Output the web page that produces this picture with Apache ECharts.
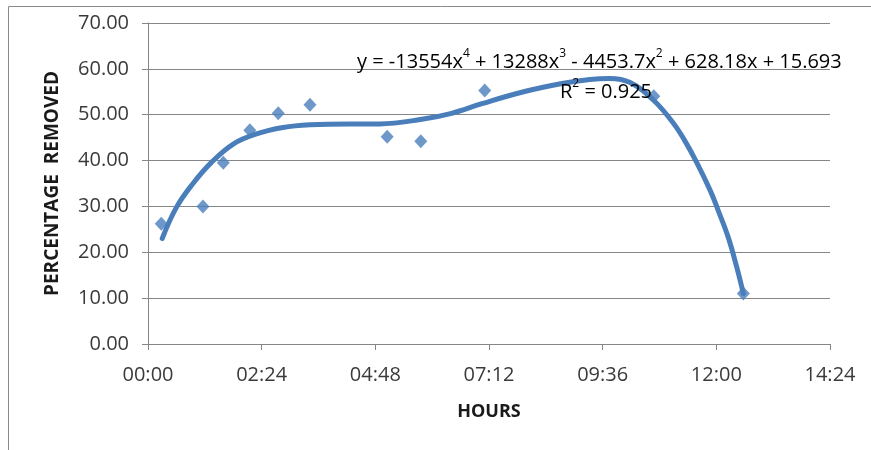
<!DOCTYPE html>
<html>
<head>
<meta charset="utf-8">
<script src="https://cdn.jsdelivr.net/npm/echarts@6/dist/echarts.min.js"></script>
<style>
  html, body { margin: 0; padding: 0; background: #ffffff; }
  #chart { width: 871px; height: 450px; }
</style>
</head>
<body>
<div id="chart"></div>
<script>
// Measured removal (hours since start, percentage removed)
const sampleHours   = [0.28, 1.16, 1.59, 2.15, 2.75, 3.42, 5.05, 5.76, 7.11, 10.68, 12.57];
const sampleRemoved = [26.2, 30.0, 39.5, 46.6, 50.3, 52.2, 45.2, 44.2, 55.3, 54.0, 11.0];

// Polynomial trend line, traced along its path
const trendHours = [0.30, 0.60, 0.95, 1.34, 1.80, 2.29, 2.85, 3.42, 4.26, 4.89, 5.78, 6.41, 7.05, 7.89, 8.74, 9.33, 9.75, 10.18, 10.67, 11.09, 11.33, 11.59, 11.87, 12.04, 12.25, 12.43, 12.57];
const trendValues = [23.0, 29.8, 35.0, 39.6, 43.6, 45.8, 47.2, 47.8, 48.0, 48.0, 49.0, 50.3, 52.4, 54.9, 56.8, 57.7, 57.9, 57.0, 53.2, 48.2, 44.4, 39.5, 33.5, 29.1, 23.3, 16.8, 11.0];

// Axis ticks: every 2 h 24 min, 0 to 70 %
const xTickStep = 2.4;
const yTickStep = 10;

const FONT = '"Open Sans", "Liberation Sans", sans-serif';
const BLUE = '#4a7ebb';
const GRID_GRAY = '#868686';

function hhmm(v) {
  const total = Math.round(v * 60);
  const h = Math.floor(total / 60);
  const m = total % 60;
  return String(h).padStart(2, '0') + ':' + String(m).padStart(2, '0');
}

const richEq = {
  n: { fontFamily: FONT, fontSize: 20, color: '#1a1a1a', lineHeight: 24, verticalAlign: 'bottom' },
  s: { fontFamily: FONT, fontSize: 12, color: '#1a1a1a', lineHeight: 24, verticalAlign: 'top' }
};

const chart = echarts.init(document.getElementById('chart'), null, { renderer: 'canvas' });

chart.setOption({
  animation: false,
  backgroundColor: '#ffffff',
  grid: { left: 148, right: 41, top: 23, bottom: 106, containLabel: false },
  xAxis: {
    type: 'value',
    min: 0, max: 14.4, interval: xTickStep,
    name: 'HOURS',
    nameLocation: 'middle',
    nameGap: 59,
    nameTextStyle: { fontFamily: FONT, fontWeight: 'bold', fontSize: 18, color: '#1a1a1a' },
    axisLine: { show: true, lineStyle: { color: GRID_GRAY, width: 1 } },
    axisTick: { show: true, length: 6, lineStyle: { color: GRID_GRAY } },
    axisLabel: { formatter: hhmm, fontFamily: FONT, fontSize: 20, color: '#3a3a3a', margin: 21 },
    splitLine: { show: false }
  },
  yAxis: {
    type: 'value',
    min: 0, max: 70, interval: yTickStep,
    name: 'PERCENTAGE  REMOVED',
    nameLocation: 'middle',
    nameGap: 86,
    nameTextStyle: { fontFamily: FONT, fontWeight: 'bold', fontSize: 19, color: '#1a1a1a' },
    axisLine: { show: true, lineStyle: { color: GRID_GRAY, width: 1 } },
    axisTick: { show: true, length: 6, lineStyle: { color: GRID_GRAY } },
    axisLabel: { formatter: v => v.toFixed(2), fontFamily: FONT, fontSize: 20, color: '#3a3a3a', margin: 19 },
    splitLine: { show: true, lineStyle: { color: GRID_GRAY, width: 1 } }
  },
  graphic: [
    {
      type: 'rect', silent: true, z: -10,
      shape: { x: 8.5, y: 6.5, width: 900, height: 500 },
      style: { fill: 'none', stroke: '#8a8a8a', lineWidth: 1 }
    },
    {
      type: 'text', z: 100,
      left: 357, top: 48,
      style: {
        text: '{n|y = -13554x}{s|4}{n| + 13288x}{s|3}{n| - 4453.7x}{s|2}{n| + 628.18x + 15.693}',
        rich: richEq
      }
    },
    {
      type: 'text', z: 100,
      left: 560, top: 78,
      style: {
        text: '{n|R}{s|2}{n| = 0.925}',
        rich: richEq
      }
    }
  ],
  series: [
    {
      name: 'Measured',
      type: 'scatter',
      symbol: 'diamond',
      symbolSize: [13, 14],
      itemStyle: { color: BLUE },
      z: 2,
      data: sampleHours.map((h, i) => [h, sampleRemoved[i]])
    },
    {
      name: 'Poly. (Measured)',
      type: 'line',
      smooth: 0.4,
      showSymbol: false,
      lineStyle: { color: BLUE, width: 5, cap: 'round' },
      z: 3,
      data: trendHours.map((h, i) => [h, trendValues[i]])
    }
  ]
});
</script>
</body>
</html>
